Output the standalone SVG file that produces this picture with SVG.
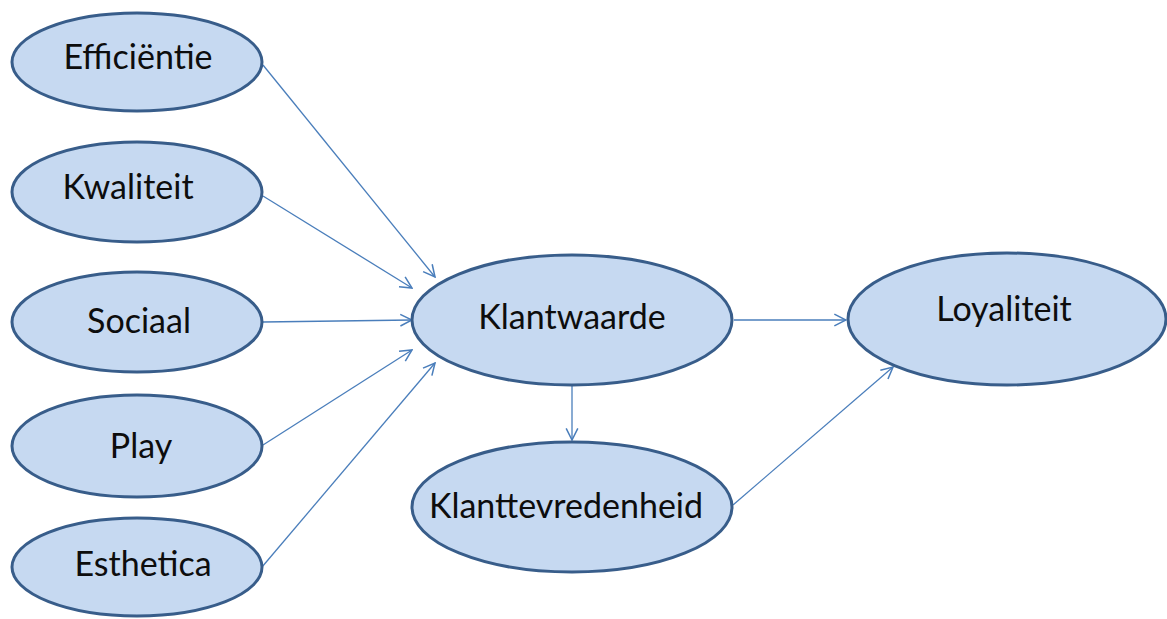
<svg xmlns="http://www.w3.org/2000/svg" width="1167" height="619" viewBox="0 0 1167 619">
  <style>
    .node ellipse { fill: #c6d9f1; stroke: #385d8a; stroke-width: 3; }
    .node text { font-family: Lato, "Open Sans", "Liberation Sans", sans-serif; font-size: 34px; fill: #0d0d0d; text-anchor: middle; }
    #connectors line { stroke: #4a7ebb; stroke-width: 1.3; fill: none; marker-end: url(#arrow); }
  </style>
  <defs>
    <marker id="arrow" markerUnits="userSpaceOnUse" markerWidth="14" markerHeight="14" viewBox="0 0 12 12" refX="11" refY="6" orient="auto">
      <path d="M1,1 L11,6 L1,11" fill="none" stroke="#4a7ebb" stroke-width="1.3"/>
    </marker>
  </defs>
  <rect width="1167" height="619" fill="#ffffff"/>

  <g id="connectors">
    <line x1="263" y1="65" x2="435" y2="277"/>
    <line x1="263" y1="196" x2="412" y2="288"/>
    <line x1="263" y1="322" x2="412" y2="320"/>
    <line x1="263" y1="445" x2="412" y2="350"/>
    <line x1="262" y1="567" x2="435" y2="363"/>
    <line x1="572" y1="386" x2="572" y2="440"/>
    <line x1="734" y1="320" x2="846" y2="320"/>
    <line x1="733" y1="505" x2="893" y2="367"/>
  </g>

  <g id="efficientie" class="node">
    <ellipse cx="137" cy="62" rx="125" ry="49"/>
    <text x="138" y="69">Efficiëntie</text>
  </g>
  <g id="kwaliteit" class="node">
    <ellipse cx="137" cy="192" rx="125" ry="50"/>
    <text x="128" y="199">Kwaliteit</text>
  </g>
  <g id="sociaal" class="node">
    <ellipse cx="137" cy="322" rx="125" ry="50"/>
    <text x="139" y="333">Sociaal</text>
  </g>
  <g id="play" class="node">
    <ellipse cx="137" cy="446" rx="125" ry="51"/>
    <text x="141" y="458">Play</text>
  </g>
  <g id="esthetica" class="node">
    <ellipse cx="137" cy="567" rx="125" ry="49"/>
    <text x="143" y="576">Esthetica</text>
  </g>
  <g id="klantwaarde" class="node">
    <ellipse cx="572" cy="320" rx="160" ry="65"/>
    <text x="572" y="329">Klantwaarde</text>
  </g>
  <g id="klanttevredenheid" class="node">
    <ellipse cx="572" cy="507" rx="160" ry="65"/>
    <text x="566" y="518">Klanttevredenheid</text>
  </g>
  <g id="loyaliteit" class="node">
    <ellipse cx="1007" cy="319" rx="159" ry="66"/>
    <text x="1004" y="321">Loyaliteit</text>
  </g>
</svg>
